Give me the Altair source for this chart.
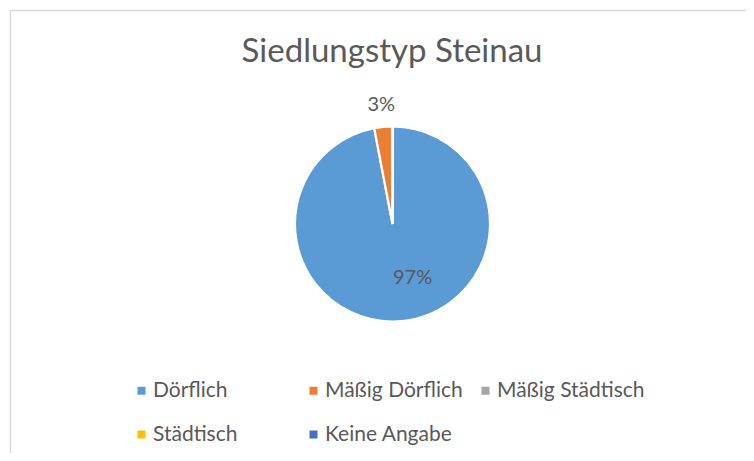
import altair as alt
import pandas as pd

categories = ["Dörflich", "Mäßig Dörflich", "Mäßig Städtisch", "Städtisch", "Keine Angabe"]
values = [97, 3, 0, 0, 0]
colors = ["#5B9BD5", "#ED7D31", "#A5A5A5", "#FFC000", "#4472C4"]
title_text = "Siedlungstyp Steinau"

df = pd.DataFrame({"kategorie": categories, "wert": values, "idx": list(range(len(categories)))})

FONT = "Lato"
TXT = "#595959"
CX, CY, R = 384.5, 216, 97.5

base = alt.Chart(df).encode(
    theta=alt.Theta("wert:Q", stack=True),
    order=alt.Order("idx:Q", sort="ascending"),
)

pie = base.mark_arc(radius=R, stroke="white", strokeWidth=2.2).encode(
    color=alt.Color(
        "kategorie:N",
        scale=alt.Scale(domain=categories, range=colors),
        legend=alt.Legend(
            title=None,
            orient="none",
            legendX=123,
            legendY=372,
            direction="horizontal",
            columns=3,
            gridAlign="all",
            columnPadding=2,
            rowPadding=22,
            symbolType="square",
            symbolSize=64,
            symbolStrokeWidth=0,
            symbolOffset=0,
            labelOffset=1,
            labelFont=FONT,
            labelFontSize=21,
            labelColor=TXT,
            labelLimit=400,
            padding=0,
        ),
    ),
    x=alt.value(CX),
    y=alt.value(CY),
)

inner = base.transform_calculate(
    lab="datum.idx == 0 ? datum.wert + '%' : ''"
).mark_text(radius=54, dx=15, font=FONT, fontSize=20, color=TXT).encode(
    text="lab:N", x=alt.value(CX), y=alt.value(CY)
)

outer = base.transform_calculate(
    lab="datum.idx == 1 ? datum.wert + '%' : ''"
).mark_text(radius=120, font=FONT, fontSize=20, color=TXT).encode(
    text="lab:N", x=alt.value(CX), y=alt.value(CY)
)

border = alt.Chart(pd.DataFrame({"b": [0]})).mark_rect(
    fill="white", fillOpacity=0, stroke="#d9d9d9", strokeWidth=1.5
).encode(
    x=alt.value(2.5), x2=alt.value(1000), y=alt.value(2.5), y2=alt.value(1000)
)

chart = alt.layer(border, pie, inner, outer).properties(
    width=738,
    height=445,
    autosize=alt.AutoSizeParams(type="none"),
    padding=0,
    title=alt.TitleParams(
        title_text,
        font=FONT,
        fontSize=33,
        fontWeight="normal",
        color=TXT,
        anchor="middle",
        baseline="alphabetic",
        dx=15,
        dy=91,
    ),
    background="white",
).configure_view(stroke=None)

chart.save("out.html", embed_options={"renderer": "svg", "actions": False})
